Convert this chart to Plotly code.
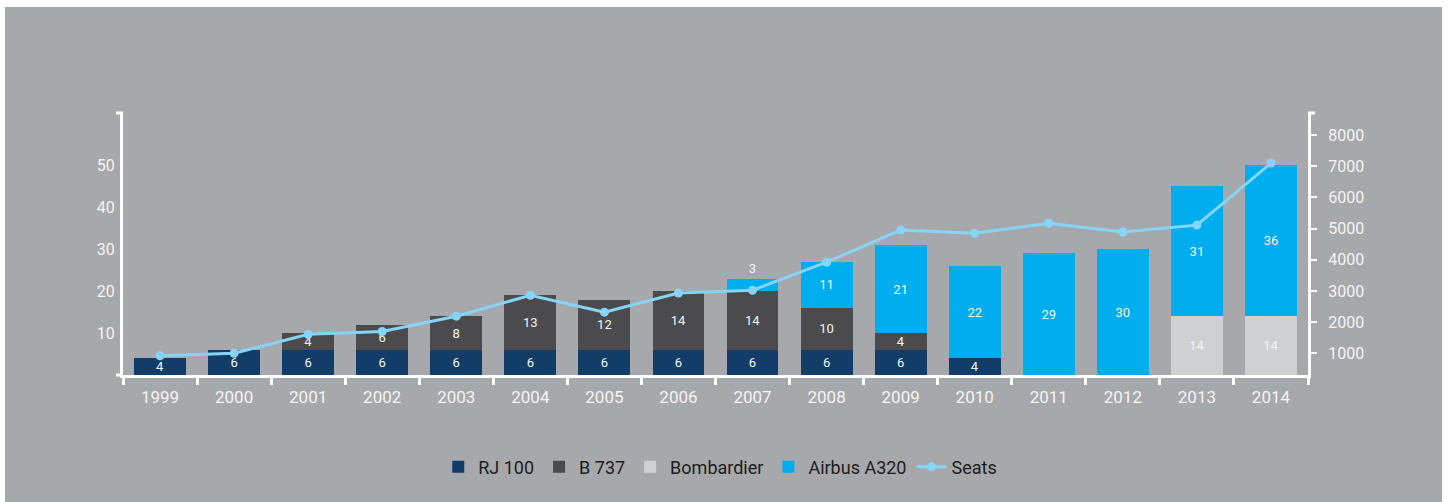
import plotly.graph_objects as go

# Fleet by year (aircraft counts per type) and seats
years = ['1999', '2000', '2001', '2002', '2003', '2004', '2005', '2006',
         '2007', '2008', '2009', '2010', '2011', '2012', '2013', '2014']
rj100 = [4, 6, 6, 6, 6, 6, 6, 6, 6, 6, 6, 4, None, None, None, None]
b737 = [None, None, 4, 6, 8, 13, 12, 14, 14, 10, 4, None, None, None, None, None]
bombardier = [None] * 14 + [14, 14]
a320 = [None] * 8 + [3, 11, 21, 22, 29, 30, 31, 36]
seats = [920, 1000, 1610, 1700, 2190, 2860, 2320, 2930,
         3020, 3920, 4950, 4850, 5170, 4890, 5110, 7100]

bar_ticks = [10, 20, 30, 40, 50]
seat_ticks = [1000, 2000, 3000, 4000, 5000, 6000, 7000, 8000]

font_name = 'Roboto'
white = '#f4f4f4'


def labels(vals):
    return ['' if v is None else str(v) for v in vals]


fig = go.Figure()

bar_series = [
    ('RJ 100', rj100, '#133d69'),
    ('B 737', b737, '#4b4b4e'),
    ('Bombardier', bombardier, '#cfd0d2'),
    ('Airbus A320', a320, '#00adee'),
]
for name, vals, color in bar_series:
    pos = ['inside'] * len(vals)
    if name == 'Airbus A320':
        pos[years.index('2007')] = 'outside'
    fig.add_trace(go.Bar(
        x=years, y=vals, name=name, marker=dict(color=color, line=dict(width=0)),
        text=labels(vals), textposition=pos, insidetextanchor='middle',
        constraintext='none', cliponaxis=False, textangle=0,
        textfont=dict(family=font_name, size=13, color=white),
    ))

fig.add_trace(go.Scatter(
    x=years, y=seats, name='Seats', yaxis='y2', mode='lines+markers',
    line=dict(color='#86d5f6', width=3),
    marker=dict(color='#86d5f6', size=9),
))

# plot area in pixels: x 123..1308, y 113..375
pw, ph = 1185, 262
cap = 7 / pw

shapes = [
    # gray panel with thin white border on top/left/right
    dict(type='rect', xref='paper', yref='paper', layer='below',
         x0=(5 - 123) / pw, x1=(1442 - 123) / pw,
         y0=(375 - 502) / ph, y1=(375 - 7) / ph,
         fillcolor='#a7a8ab', line=dict(width=0)),
    # axis end caps
    dict(type='line', xref='paper', yref='paper', x0=-cap, x1=0, y0=1, y1=1,
         line=dict(color='white', width=3)),
    dict(type='line', xref='paper', yref='paper', x0=1, x1=1 + cap, y0=1, y1=1,
         line=dict(color='white', width=3)),
    dict(type='line', xref='paper', yref='paper', x0=-cap, x1=0, y0=0, y1=0,
         line=dict(color='white', width=3)),
]

fig.update_layout(
    width=1450, height=502,
    margin=dict(l=123, r=142, t=113, b=127),
    paper_bgcolor='white', plot_bgcolor='rgba(0,0,0,0)',
    barmode='stack', bargap=0.3,
    font=dict(family=font_name, color=white, size=17),
    shapes=shapes,
    showlegend=True,
    legend=dict(orientation='h', x=0.504, xanchor='center',
                y=(375 - 467) / ph, yanchor='middle',
                font=dict(family=font_name, size=18, color='#1c1c1c'),
                bgcolor='rgba(0,0,0,0)', itemwidth=30, traceorder='normal'),
    xaxis=dict(type='category', range=[-0.5, 15.5], showgrid=False,
               showline=True, linecolor='white', linewidth=3,
               ticks='outside', tickson='boundaries', ticklen=7,
               tickwidth=3, tickcolor='white', ticklabelstandoff=5,
               tickfont=dict(size=17, color=white)),
    yaxis=dict(range=[0, 62.5], tickvals=bar_ticks, showgrid=False,
               zeroline=False, showline=True, linecolor='white',
               linewidth=3, ticks='', ticklabelstandoff=2,
               tickfont=dict(size=16, color=white)),
    yaxis2=dict(range=[304, 8705], tickvals=seat_ticks, overlaying='y',
                side='right', showgrid=False, zeroline=False,
                showline=True, linecolor='white', linewidth=3,
                ticks='outside', ticklen=6, tickwidth=2, tickcolor='white',
                ticklabelstandoff=8, tickfont=dict(size=16, color=white)),
)

# drop the default page margin so the figure sits at the window origin
fig.write_html('out.html', config={'displayModeBar': False},
               post_script="document.body.style.margin='0';")
